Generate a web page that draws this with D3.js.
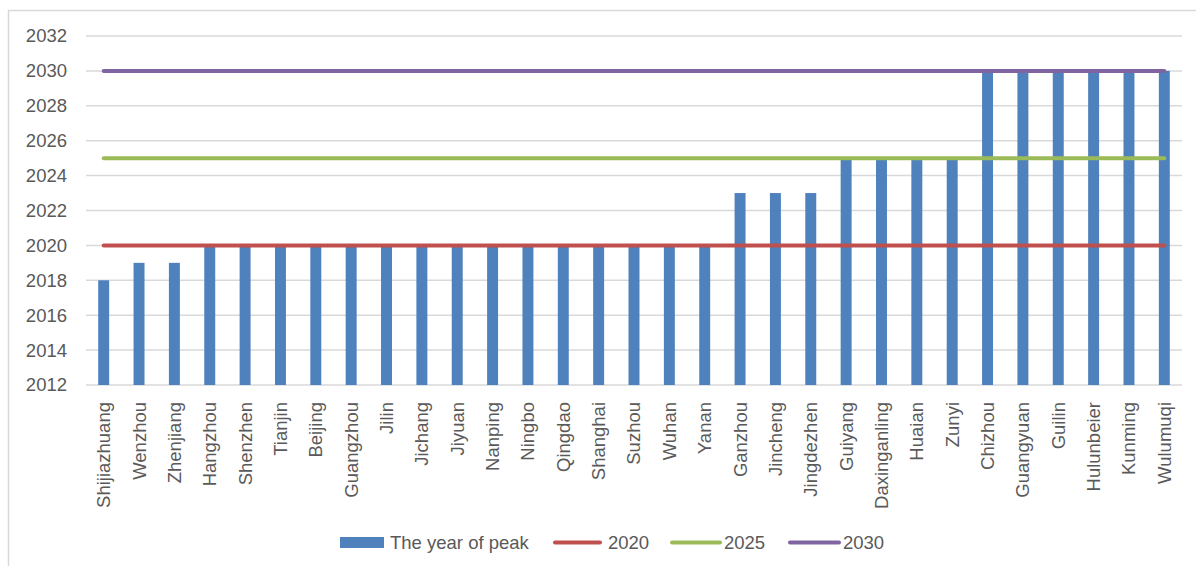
<!DOCTYPE html>
<html><head><meta charset="utf-8">
<script src="https://cdn.jsdelivr.net/npm/d3@7"></script>
<style>html,body{margin:0;padding:0;background:#fff;}svg{display:block;}</style>
</head><body>
<svg id="c" width="1196" height="566"></svg>
<script>
const categories = ["Shijiazhuang","Wenzhou","Zhenjiang","Hangzhou","Shenzhen","Tianjin","Beijing","Guangzhou","Jilin","Jichang","Jiyuan","Nanping","Ningbo","Qingdao","Shanghai","Suzhou","Wuhan","Yanan","Ganzhou","Jincheng","Jingdezhen","Guiyang","Daxinganling","Huaian","Zunyi","Chizhou","Guangyuan","Guilin","Hulunbeier","Kunming","Wulumuqi"];
const peakYear = [2018,2019,2019,2020,2020,2020,2020,2020,2020,2020,2020,2020,2020,2020,2020,2020,2020,2020,2023,2023,2023,2025,2025,2025,2025,2030,2030,2030,2030,2030,2030];
const line2020 = categories.map(() => 2020);
const line2025 = categories.map(() => 2025);
const line2030 = categories.map(() => 2030);
const yTicks = [2012,2014,2016,2018,2020,2022,2024,2026,2028,2030,2032];
const legendLabels = ["The year of peak","2020","2025","2030"];

const svg = d3.select("#c");
const font = "'Liberation Sans', Arial, sans-serif";
const textCol = "#595959";
const colors = {bar:"#4F81BD", l2020:"#C0504D", l2025:"#9BBB59", l2030:"#8064A2"};

// chart border
svg.append("rect").attr("x",8.5).attr("y",10.5).attr("width",1200).attr("height",600)
  .attr("fill","none").attr("stroke","#D9D9D9").attr("stroke-width",1.5);

const pLeft = 86, pRight = 1182, pTop = 36, pBottom = 385;
const x = d3.scaleBand().domain(categories).range([pLeft, pRight]).paddingInner(0.69).paddingOuter(0.345);
const y = d3.scaleLinear().domain([2012, 2032]).range([pBottom, pTop]);

// grid
svg.append("g").selectAll("line").data(yTicks).join("line")
  .attr("x1", pLeft).attr("x2", pRight)
  .attr("y1", d => y(d)).attr("y2", d => y(d))
  .attr("stroke", "#D9D9D9").attr("stroke-width", 1.5);

// y axis labels
const yAxis = d3.axisLeft(y).tickValues(yTicks).tickFormat(d3.format("d")).tickSize(0).tickPadding(0);
const ya = svg.append("g").attr("transform", `translate(${pLeft-19},0)`).call(yAxis);
ya.select(".domain").remove();
ya.selectAll("text").attr("font-family", font).attr("font-size", 18.5).attr("fill", textCol);

// bars
const xc = d => x(d) + x.bandwidth()/2;
svg.append("g").selectAll("rect").data(categories).join("rect")
  .attr("x", d => x(d)).attr("width", x.bandwidth())
  .attr("y", (d,i) => y(peakYear[i]))
  .attr("height", (d,i) => y(2012) - y(peakYear[i]))
  .attr("fill", colors.bar);

// lines
const lineGen = d3.line().x((d,i) => xc(categories[i])).y(d => y(d));
[[line2020, colors.l2020],[line2025, colors.l2025],[line2030, colors.l2030]].forEach(([data, c]) => {
  svg.append("path").datum(data).attr("d", lineGen)
    .attr("fill","none").attr("stroke", c).attr("stroke-width", 4).attr("stroke-linecap","round");
});

// x labels
const xAxis = d3.axisBottom(x).tickSize(0).tickPadding(0);
const xa = svg.append("g").attr("transform", `translate(0,${pBottom})`).call(xAxis);
xa.select(".domain").remove();
xa.selectAll("text")
  .attr("font-family", font).attr("font-size", 18.5).attr("fill", textCol)
  .attr("transform", "rotate(-90)")
  .attr("text-anchor", "end").attr("dy", "0.35em")
  .attr("x", -17).attr("y", 0);

// legend
const lg = svg.append("g");
lg.append("rect").attr("x",340).attr("y",537).attr("width",44).attr("height",11).attr("fill",colors.bar);
lg.append("text").attr("x",390).attr("y",549).text(legendLabels[0]);
const legItems = [[555,600,608,colors.l2020,legendLabels[1]],[672,720,724,colors.l2025,legendLabels[2]],[790,839,843,colors.l2030,legendLabels[3]]];
legItems.forEach(([x1,x2,tx,c,t]) => {
  lg.append("line").attr("x1",x1).attr("x2",x2).attr("y1",542.5).attr("y2",542.5)
    .attr("stroke",c).attr("stroke-width",4).attr("stroke-linecap","round");
  lg.append("text").attr("x",tx).attr("y",549).text(t);
});
lg.selectAll("text").attr("font-family",font).attr("font-size",18.5).attr("fill",textCol);
</script>
</body></html>
